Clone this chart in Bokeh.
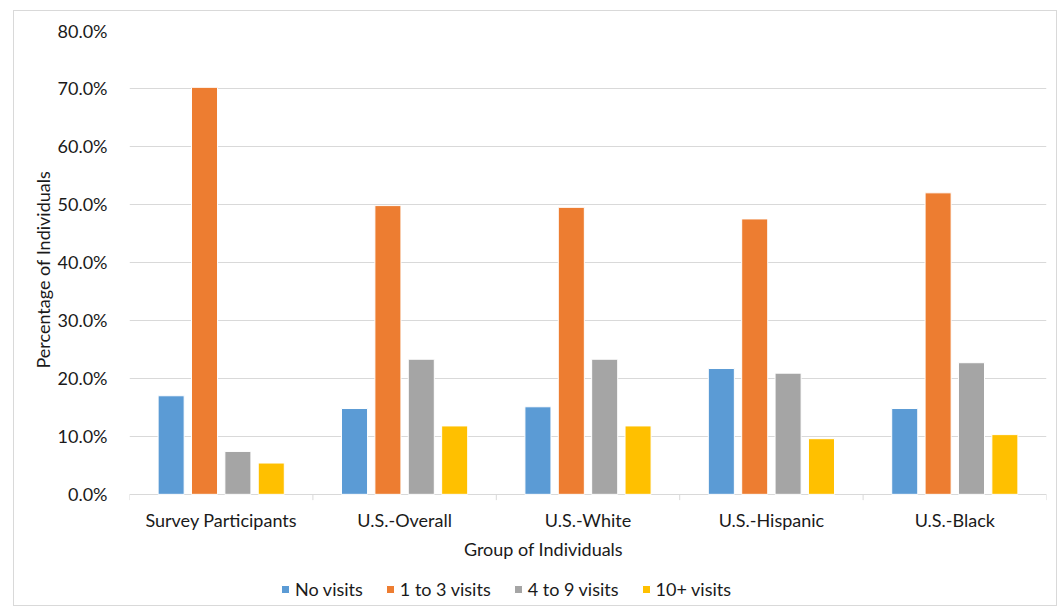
from bokeh.plotting import figure
from bokeh.models import (ColumnDataSource, FactorRange, Range1d, FixedTicker,
                          Legend, LegendItem, Title, Label, PrintfTickFormatter)
from bokeh.core.properties import value
from bokeh.transform import dodge
from bokeh.embed import file_html
from bokeh.resources import INLINE

groups = ["Survey Participants", "U.S.-Overall", "U.S.-White", "U.S.-Hispanic", "U.S.-Black"]
series_names = ["No visits", "1 to 3 visits", "4 to 9 visits", "10+ visits"]
no_visits = [17.0, 14.8, 15.1, 21.7, 14.8]
one_to_three = [70.2, 49.8, 49.5, 47.5, 52.0]
four_to_nine = [7.4, 23.3, 23.3, 20.9, 22.7]
ten_plus = [5.4, 11.8, 11.8, 9.6, 10.3]
y_ticks = [0, 10, 20, 30, 40, 50, 60, 70, 80]
colors = ["#5B9BD5", "#ED7D31", "#A5A5A5", "#FFC000"]

FONT = "Lato"
TXT = "#1a1a1a"
GRID = "#d9d9d9"
Y_MIN = -19.0        # room below the baseline for category labels, axis title and legend
TICK_DEPTH = 1.0     # length of the category separator marks below the baseline
CAT_LABEL_Y = -4.5
XTITLE_Y = -9.5

source = ColumnDataSource(dict(group=groups, s0=no_visits, s1=one_to_three,
                               s2=four_to_nine, s3=ten_plus,
                               y0=[-TICK_DEPTH] * len(groups), y1=[0] * len(groups)))

p = figure(x_range=FactorRange(*groups, range_padding=0, factor_padding=0),
           y_range=Range1d(Y_MIN, 80), x_axis_location=None,
           width=1044, height=596, output_backend="svg", toolbar_location=None,
           min_border_left=115, min_border_right=12, min_border_top=19, min_border_bottom=3)
p.margin = (10, 0, 0, 13)
p.styles = {"border": "1px solid #d9d9d9", "box-sizing": "border-box"}
p.outline_line_color = None

stride = 0.182
bar_w = 0.142
offsets = [-1.5 * stride, -0.5 * stride, 0.5 * stride, 1.5 * stride]
renderers = []
for i, (col, off) in enumerate(zip(["s0", "s1", "s2", "s3"], offsets)):
    r = p.vbar(x=dodge("group", off, range=p.x_range), top=col, width=bar_w, source=source,
               fill_color=colors[i], line_color="white", line_width=1)
    renderers.append(r)

# category separator marks below the baseline
p.segment(x0=dodge("group", -0.5, range=p.x_range), x1=dodge("group", -0.5, range=p.x_range),
          y0="y0", y1="y1", source=source, line_color=GRID, line_width=1)
last = ColumnDataSource(dict(group=groups[-1:], y0=[-TICK_DEPTH], y1=[0]))
p.segment(x0=dodge("group", 0.5, range=p.x_range), x1=dodge("group", 0.5, range=p.x_range),
          y0="y0", y1="y1", source=last, line_color=GRID, line_width=1)

# category labels
p.text(x="group", y=CAT_LABEL_Y, text="group", source=source,
       text_font=value(FONT), text_font_size="18px", text_color=TXT,
       text_align="center", text_baseline="middle")

# x axis title
p.add_layout(Label(x=2.257, y=XTITLE_Y, text="Group of Individuals",
                   text_font=FONT, text_font_size="18px", text_color=TXT,
                   text_align="center", text_baseline="middle"))

# y axis
p.yaxis.ticker = FixedTicker(ticks=y_ticks)
p.yaxis.formatter = PrintfTickFormatter(format="%.1f%%")
p.yaxis.axis_line_color = None
p.yaxis.major_tick_line_color = None
p.yaxis.minor_tick_line_color = None
p.yaxis.major_label_text_font = FONT
p.yaxis.major_label_text_font_size = "18px"
p.yaxis.major_label_text_color = TXT
p.yaxis.major_label_standoff = 16

ytitle = Title(text="Percentage of Individuals", align="left", offset=236,
               text_font=FONT, text_font_size="18px", text_font_style="normal",
               text_color=TXT, standoff=2)
p.add_layout(ytitle, "left")

p.ygrid.ticker = FixedTicker(ticks=y_ticks)
p.ygrid.grid_line_color = GRID
p.xgrid.grid_line_color = None

legend = Legend(items=[LegendItem(label=n, renderers=[r]) for n, r in zip(series_names, renderers)],
                orientation="horizontal", location=(151, 4),
                label_text_font=FONT, label_text_font_size="18px", label_text_color=TXT,
                glyph_width=10, glyph_height=10, label_standoff=5, spacing=22,
                padding=0, margin=0, border_line_color=None, background_fill_alpha=0)
p.add_layout(legend, "center")

open("out.html", "w").write(file_html(p, INLINE))
